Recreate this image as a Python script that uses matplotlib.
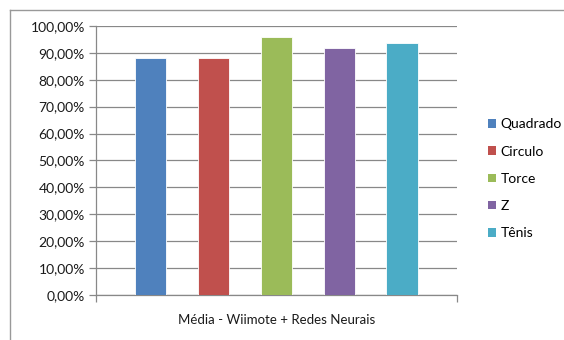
import matplotlib
matplotlib.use("Agg")
import matplotlib.pyplot as plt
from matplotlib.lines import Line2D
from matplotlib.patches import Patch
from matplotlib.ticker import FuncFormatter

# Average accuracy per gesture (Wiimote + neural networks)
gestures = ["Quadrado", "Circulo", "Torce", "Z", "Tênis"]
accuracy = [0.880, 0.880, 0.958, 0.919, 0.936]
colors = ["#4F81BD", "#C0504D", "#9BBB59", "#8064A2", "#4BACC6"]
category = "Média - Wiimote + Redes Neurais"

plt.rcParams["font.family"] = ["Lato", "DejaVu Sans"]

fig = plt.figure(figsize=(5.64, 3.4), dpi=100)
ax = fig.add_axes([0.170, 0.132, 0.640, 0.792])

grid_color = "#888888"
text_color = "#1a1a1a"
for i, (val, col) in enumerate(zip(accuracy, colors)):
    ax.bar(i, val, width=0.5, color=col, edgecolor="white", linewidth=0.6, zorder=3)

ax.set_xlim(-0.87, 4.87)
ax.set_ylim(0, 1.0)
ax.set_yticks([k / 10 for k in range(11)])
ax.yaxis.set_major_formatter(FuncFormatter(lambda v, _: f"{v * 100:.2f}%".replace(".", ",")))
ax.yaxis.grid(True, color=grid_color, linewidth=0.9, zorder=0)

# category axis: ticks only at the outer edges
ax.set_xticks([-0.87, 4.87])
ax.set_xticklabels([])
ax.set_xlabel(category, fontsize=9.5, color=text_color, labelpad=5)

for side in ("top", "right"):
    ax.spines[side].set_visible(False)
for side in ("left", "bottom"):
    ax.spines[side].set_color(grid_color)
    ax.spines[side].set_linewidth(0.9)
ax.tick_params(axis="both", colors=grid_color, length=5, width=0.9)
ax.tick_params(axis="y", labelcolor=text_color, labelsize=10, pad=3)

handles = [Patch(facecolor=c, edgecolor="none") for c in colors]
fig.legend(handles, gestures, loc="center left", bbox_to_anchor=(0.843, 0.474),
           frameon=False, handlelength=0.55, handleheight=0.55,
           handletextpad=0.35, labelspacing=1.1, prop={"size": 10})

# outer chart frame (top and left edges)
fig.add_artist(Line2D([10 / 564, 1.0], [1 - 10 / 340, 1 - 10 / 340],
                      transform=fig.transFigure, color="#999999", linewidth=1))
fig.add_artist(Line2D([10 / 564, 10 / 564], [0.0, 1 - 10 / 340],
                      transform=fig.transFigure, color="#999999", linewidth=1))

fig.savefig("out.png", dpi=100)
